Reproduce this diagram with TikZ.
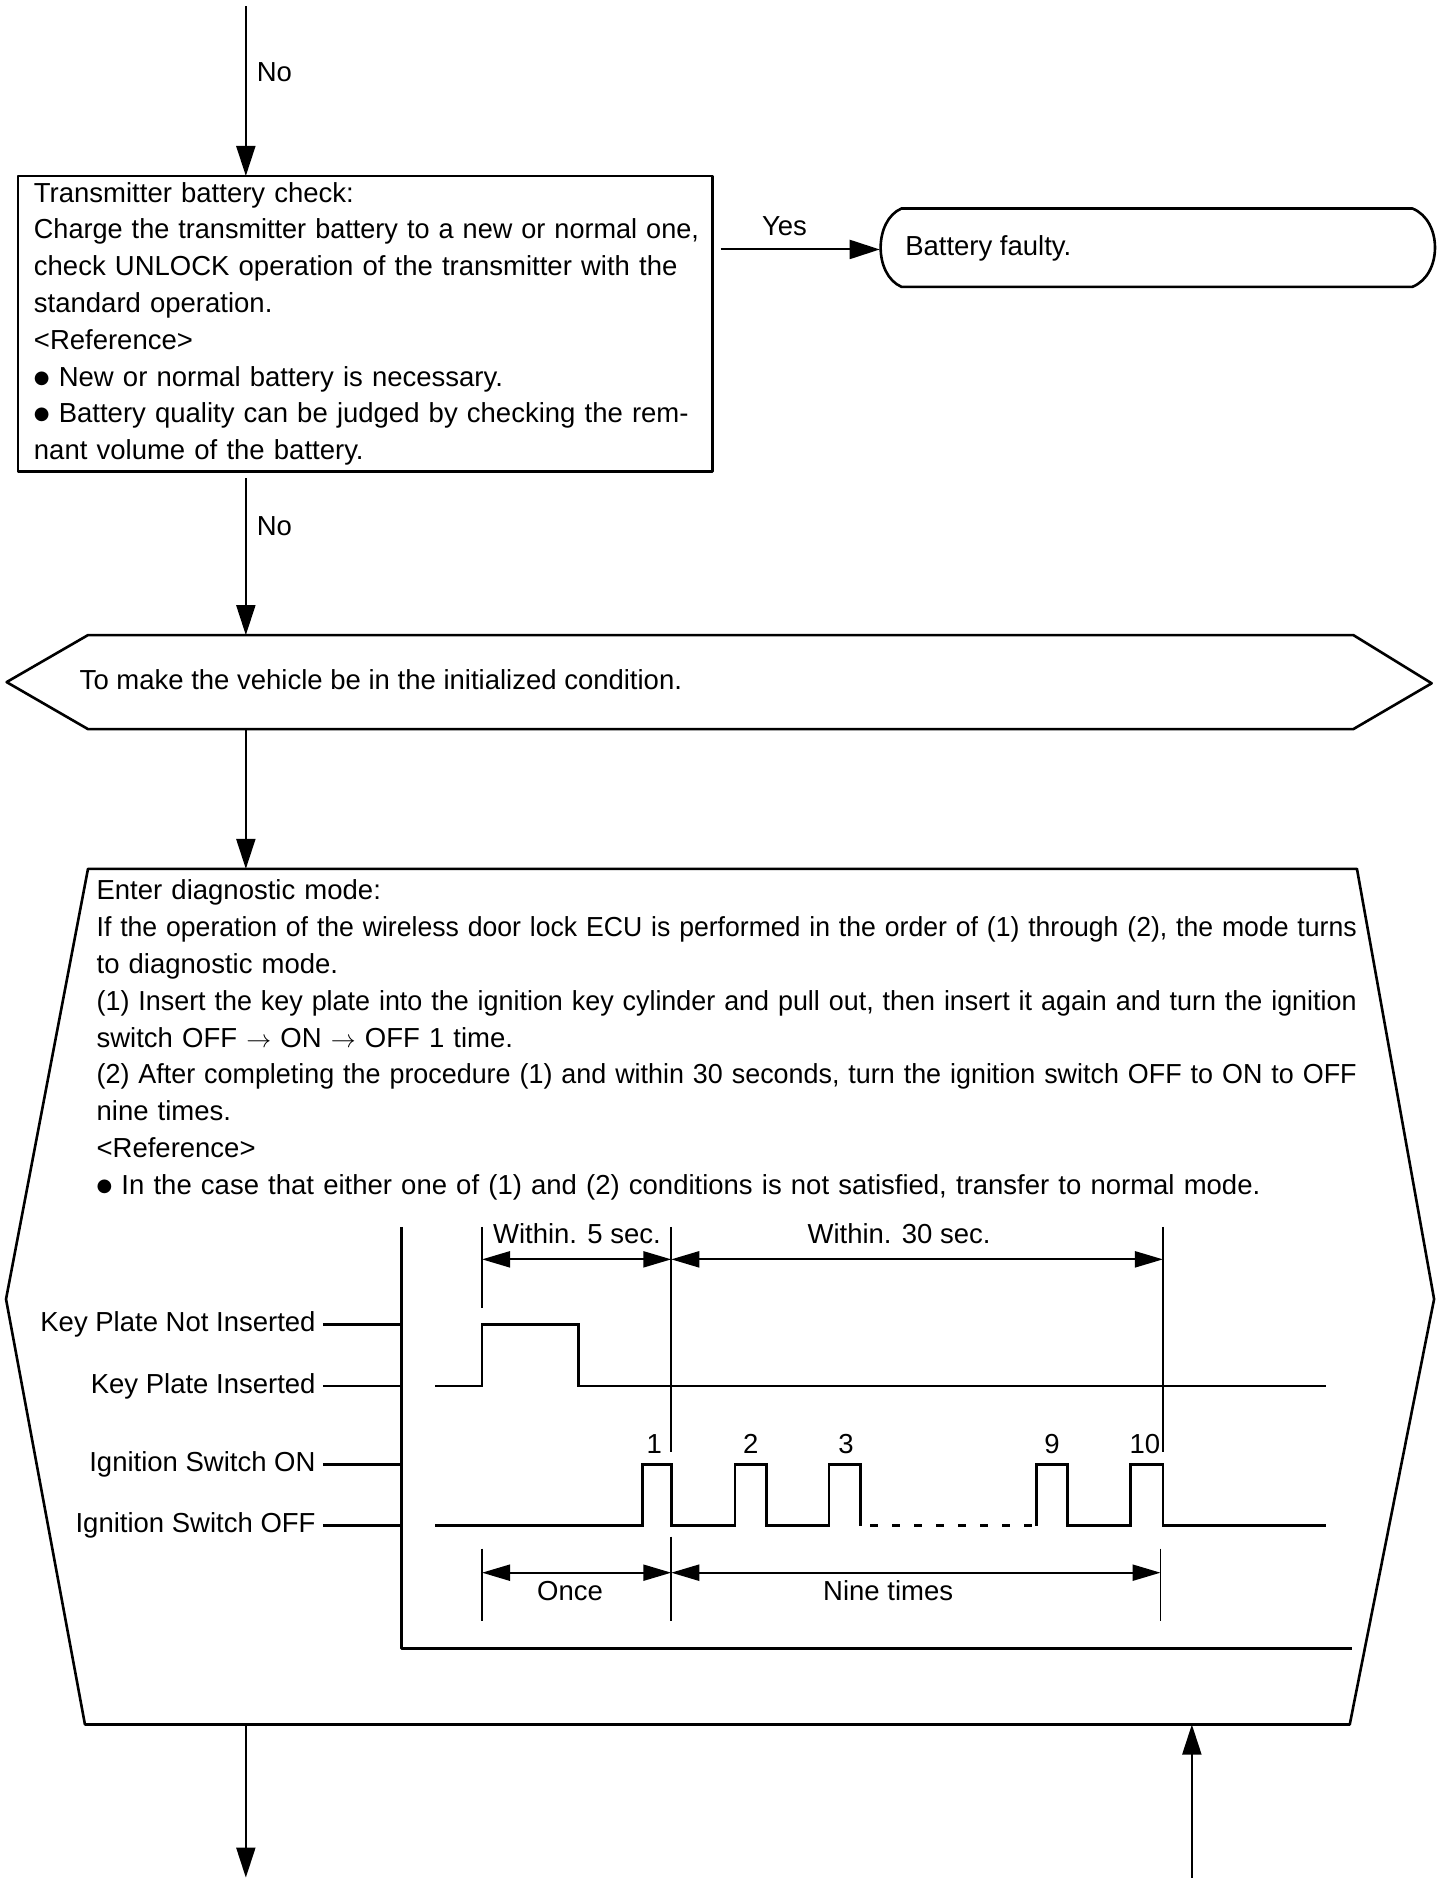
\documentclass[tikz,border=0pt]{standalone}
\usepackage{fontspec}
\usepackage{graphicx}
\setmainfont{Liberation Sans}
\newfontfamily\djv{DejaVu Sans}
\usetikzlibrary{arrows.meta}
\newlength\boxw \setlength\boxw{665pt}
\newlength\diagw \setlength\diagw{1260pt}
\newsavebox\jlbox
\newcommand\jl[2]{\sbox\jlbox{#2}\ifdim\wd\jlbox>#1\relax\resizebox{#1}{\ht\jlbox}{\usebox\jlbox}\else\makebox[#1][s]{#2}\fi}
\newcommand\bul{\raisebox{3pt}{\djv\fontsize{18}{18}\selectfont ●}}
\newcommand\rarr{$\rightarrow$}
\begin{document}
\begin{tikzpicture}[x=1.205pt,y=-1.205pt,
  txt/.style={font=\fontsize{27.5}{36.8}\selectfont, inner sep=0pt},
  para/.style={txt, anchor=north west, align=left},
  shapeline/.style={line width=2.6pt, line join=round},
  conn/.style={line width=2pt, -{Triangle[length=30pt,width=19pt]}},
  wave/.style={line width=2.6pt, line join=miter},
  guide/.style={line width=1.6pt},
  dim/.style={line width=2.2pt, {Triangle[length=28pt,width=16pt]}-{Triangle[length=28pt,width=16pt]}}]
\useasboundingbox (0,0) rectangle (1195,1565);

% ---- box 1 ----
\draw[shapeline] (15,146) rectangle (591,391);
\coordinate (b1n) at (204,146);
\coordinate (b1s) at (204,397);
\coordinate (b1e) at (598,207);
\node[para, text width=\boxw] (b1t) at (28,151) {Transmitter battery check:\\
\jl{\boxw}{Charge the transmitter battery to a new or normal one,}\\
\jl{\boxw}{check UNLOCK operation of the transmitter with the}\\
standard operation.\\
<Reference>\\
\bul\ New or normal battery is necessary.\\
\jl{\boxw}{\bul\ Battery quality can be judged by checking the rem-}\\
nant volume of the battery.};

% ---- top connector ----
\coordinate (top0) at (204,5);
\draw[conn] (top0) -- (b1n);
\node[txt, anchor=west] (no1) at (213,60) {No};

% ---- battery faulty terminal ----
\draw[shapeline] (748,173) -- (1172,173) .. controls (1197,183) and (1197,228) .. (1172,238)
  -- (748,238) .. controls (725,228) and (725,183) .. (748,173) -- cycle;
\coordinate (bfw) at (730,207);
\node[txt, anchor=west] (bft) at (751,206) {Battery faulty.};
\draw[conn] (b1e) -- (bfw);
\node[txt] (yes) at (651,188) {Yes};

% ---- hexagon ----
\draw[shapeline] (5.5,566) -- (73,527) -- (1123,527) -- (1188,567) -- (1123,605) -- (73,605) -- cycle;
\coordinate (hxn) at (204,527);
\coordinate (hxs) at (204,605);
\node[txt, anchor=west] (hxt) at (66,564) {To make the vehicle be in the initialized condition.};
\draw[conn] (b1s) -- (hxn);
\node[txt, anchor=west] (no2) at (213,437) {No};

% ---- big diagnostic shape ----
\draw[shapeline] (73,721) -- (1126,721) -- (1190,1078) -- (1120,1431) -- (70.5,1431) -- (5,1078) -- cycle;
\coordinate (bgn) at (204,721);
\coordinate (bgs) at (204,1431);
\coordinate (bgr) at (989,1431);
\draw[conn] (hxs) -- (bgn);
\node[para, text width=\diagw] (dgt) at (80,730) {Enter diagnostic mode:\\
\jl{\diagw}{If the operation of the wireless door lock ECU is performed in the order of (1) through (2), the mode turns}\\
to diagnostic mode.\\
\jl{\diagw}{(1) Insert the key plate into the ignition key cylinder and pull out, then insert it again and turn the ignition}\\
switch OFF \rarr{} ON \rarr{} OFF 1 time.\\
\jl{\diagw}{(2) After completing the procedure (1) and within 30 seconds, turn the ignition switch OFF to ON to OFF}\\
nine times.\\
<Reference>\\
\bul\ In the case that either one of (1) and (2) conditions is not satisfied, transfer to normal mode.};

% ---- timing chart ----
\draw[shapeline] (333,1018) -- (333,1368) -- (1122,1368);
\node[txt, anchor=east] (l1) at (262,1099) {Key Plate Not Inserted};
\node[txt, anchor=east] (l2) at (262,1150) {Key Plate Inserted};
\node[txt, anchor=east] (l3) at (262,1215) {Ignition Switch ON};
\node[txt, anchor=east] (l4) at (262,1266) {Ignition Switch OFF};
\draw[wave] (268,1099) -- (333,1099);
\draw[wave] (268,1150) -- (333,1150);
\draw[wave] (268,1215) -- (333,1215);
\draw[wave] (268,1266) -- (333,1266);
\draw[wave] (361,1150) -- (400,1150) -- (400,1099) -- (480,1099) -- (480,1150) -- (1100,1150);
\draw[wave] (361,1266) -- (533,1266) -- (533,1215) -- (557,1215) -- (557,1266)
  -- (610,1266) -- (610,1215) -- (636,1215) -- (636,1266)
  -- (688,1266) -- (688,1215) -- (714,1215) -- (714,1266);
\draw[wave, dash pattern=on 8pt off 14pt] (722,1266) -- (858,1266);
\draw[wave] (860,1266) -- (860,1215) -- (886,1215) -- (886,1266)
  -- (938,1266) -- (938,1215) -- (965,1215) -- (965,1266) -- (1100,1266);
\node[txt] (p1) at (543,1198) {1};
\node[txt] (p2) at (623,1198) {2};
\node[txt] (p3) at (702,1198) {3};
\node[txt] (p9) at (873,1198) {9};
\node[txt] (p10) at (950,1198) {10};
% guides
\draw[guide] (400,1018) -- (400,1085);
\draw[guide] (557,1018) -- (557,1205);
\draw[guide] (965,1018) -- (965,1205);
\draw[guide] (400,1285) -- (400,1345);
\draw[guide] (557,1275) -- (557,1345);
\draw[guide] (963,1285) -- (963,1345);
\coordinate (t5a) at (400,1045);
\coordinate (t5b) at (557,1045);
\coordinate (t30b) at (965,1045);
\draw[dim] (t5a) -- (t5b);
\draw[dim] (t5b) -- (t30b);
\node[txt, anchor=west] (w5) at (409,1024) {Within. 5 sec.};
\node[txt] (w30) at (746,1024) {Within. 30 sec.};
\coordinate (oa) at (400,1305);
\coordinate (ob) at (557,1305);
\coordinate (nb) at (963,1305);
\draw[dim] (oa) -- (ob);
\draw[dim] (ob) -- (nb);
\node[txt] (once) at (473,1320) {Once};
\node[txt] (nine) at (737,1320) {Nine times};

% ---- bottom connectors ----
\coordinate (endl) at (204,1558);
\coordinate (endr) at (989,1558);
\draw[conn] (bgs) -- (endl);
\draw[conn] (endr) -- (bgr);
\end{tikzpicture}
\end{document}
